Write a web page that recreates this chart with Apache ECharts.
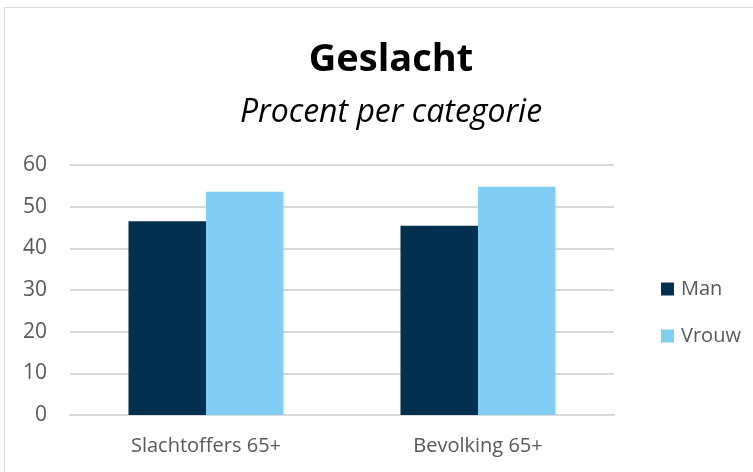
<!DOCTYPE html>
<html>
<head>
<meta charset="utf-8">
<script src="https://cdn.jsdelivr.net/npm/echarts@6/dist/echarts.min.js"></script>
<style>
  html, body { margin: 0; padding: 0; background: #fff; }
  #chart { width: 753px; height: 472px; }
</style>
</head>
<body>
<div id="chart"></div>
<script>
const categories = ["Slachtoffers 65+", "Bevolking 65+"];
const manValues = [46.5, 45.4];
const vrouwValues = [53.6, 54.8];
const yTicks = [0, 10, 20, 30, 40, 50, 60];

const FONT = "'Open Sans', 'DejaVu Sans', sans-serif";

const chart = echarts.init(document.getElementById("chart"));

const option = {
  animation: false,
  textStyle: { fontFamily: FONT },
  graphic: [
    {
      type: "rect",
      shape: { x: 4.5, y: 7.5, width: 760, height: 470 },
      style: { fill: "none", stroke: "#d9d9d9", lineWidth: 1 },
    },
  ],
  title: [
    {
      text: "Geslacht",
      left: 386,
      textAlign: "center",
      top: 36,
      textStyle: {
        fontFamily: FONT,
        fontSize: 38,
        fontWeight: "bold",
        color: "#000",
      },
    },
    {
      text: "Procent per categorie",
      left: 386,
      textAlign: "center",
      top: 92,
      textStyle: {
        fontFamily: FONT,
        fontSize: 32,
        fontStyle: "italic",
        fontWeight: "normal",
        color: "#000",
      },
    },
  ],
  legend: {
    orient: "vertical",
    left: 656,
    top: 274,
    itemWidth: 13,
    itemHeight: 13,
    itemGap: 27,
    icon: "rect",
    data: ["Man", "Vrouw"],
    textStyle: { fontFamily: FONT, fontSize: 20, color: "#595959", padding: [0, 0, 0, 2] },
  },
  grid: {
    left: 70,
    right: 139,
    top: 165,
    bottom: 57,
    containLabel: false,
  },
  xAxis: {
    type: "category",
    data: categories,
    axisLine: { lineStyle: { color: "#d9d9d9", width: 2 } },
    axisTick: { show: false },
    axisLabel: {
      fontFamily: FONT,
      fontSize: 20,
      color: "#595959",
      margin: 21,
    },
  },
  yAxis: {
    type: "value",
    min: yTicks[0],
    max: yTicks[yTicks.length - 1],
    interval: 10,
    axisLine: { show: false },
    axisTick: { show: false },
    splitLine: { lineStyle: { color: "#d9d9d9", width: 2 } },
    axisLabel: {
      fontFamily: FONT,
      fontSize: 21,
      color: "#595959",
      margin: 23,
    },
  },
  series: [
    {
      name: "Man",
      type: "bar",
      data: manValues,
      barGap: "0%",
      barCategoryGap: "43%",
      itemStyle: { color: "#02304E" },
    },
    {
      name: "Vrouw",
      type: "bar",
      data: vrouwValues,
      itemStyle: { color: "#80CFF3" },
    },
  ],
};

chart.setOption(option);
</script>
</body>
</html>
